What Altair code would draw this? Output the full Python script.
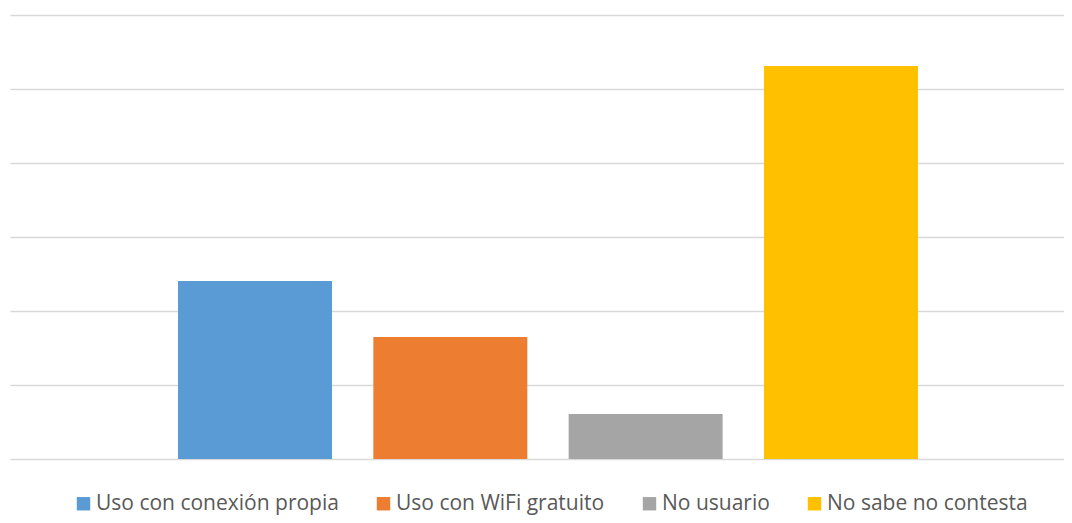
import altair as alt
import pandas as pd

series = ["Uso con conexión propia", "Uso con WiFi gratuito", "No usuario", "No sabe no contesta"]
values = [2.405, 1.649, 0.608, 5.311]
colors = ["#5B9BD5", "#ED7D31", "#A5A5A5", "#FFC000"]
grid_values = [0, 1, 2, 3, 4, 5, 6]

df = pd.DataFrame({"serie": series, "valor": values})

chart = alt.Chart(df).mark_bar().encode(
    x=alt.X("serie:N", sort=series, axis=None,
            scale=alt.Scale(paddingInner=0.2116, paddingOuter=0.804, align=0.535)),
    y=alt.Y("valor:Q", scale=alt.Scale(domain=[0, 6], nice=False),
            axis=alt.Axis(values=grid_values, labels=False, ticks=False, domain=False,
                          title=None, grid=True, gridColor="#D9D9D9", gridWidth=1.5)),
    color=alt.Color("serie:N", sort=series,
                    scale=alt.Scale(domain=series, range=colors),
                    legend=alt.Legend(title=None, orient="none", direction="horizontal",
                                      columns=4, legendX=63, legendY=478, padding=0,
                                      symbolType="square", symbolSize=180,
                                      symbolStrokeWidth=0, symbolOffset=0,
                                      labelFont="Open Sans", labelFontSize=21,
                                      labelColor="#595959", labelOffset=2,
                                      columnPadding=34, labelLimit=400)),
).properties(
    width=1054, height=444,
    autosize=alt.AutoSizeParams(type="none"),
    padding={"left": 2, "top": 7, "right": 0, "bottom": 56},
).configure_view(stroke=None)

chart.save("out.html", embed_options={"renderer": "svg", "actions": False})
